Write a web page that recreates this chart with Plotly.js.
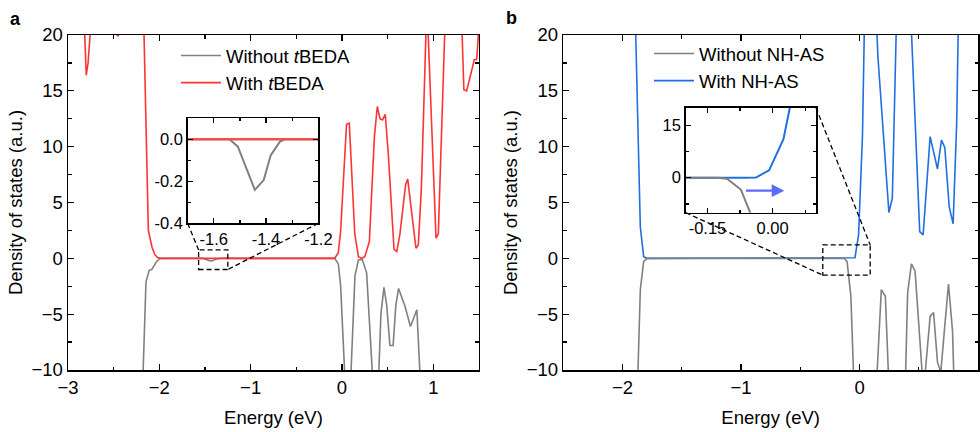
<!DOCTYPE html>
<html>
<head>
<meta charset="utf-8">
<script src="https://cdn.plot.ly/plotly-3.0.1.min.js"></script>
<style>html,body{margin:0;padding:0;background:#fff}#chart{width:980px;height:432px}</style>
</head>
<body>
<div id="chart"></div>
<script>
// ---- Panel a data (Energy in eV, DOS in a.u.) ----
const xWithoutTBEDA = [-3.0,-2.185,-2.146,-2.11,-2.083,-2.03,-2.0,-1.97,-1.54,-1.508,-1.443,-1.409,-1.382,-1.347,-1.328,-0.08,-0.04,-0.015,0.045,0.085,0.142,0.18,0.222,0.27,0.345,0.395,0.427,0.46,0.49,0.525,0.56,0.59,0.62,0.69,0.75,0.82,0.87,1.5];
const yWithoutTBEDA = [-12,-12,-2.1,-1.05,-1.0,-0.3,-0.06,0,0,-0.035,-0.241,-0.194,-0.075,-0.011,0,0,-0.5,-2.4,-13,-13,-1.6,-0.15,-0.1,-1.3,-12,-12,-4.9,-2.6,-4.2,-7.8,-7.8,-4.2,-2.7,-4.3,-6.1,-4.6,-13,-13];
const xWithTBEDA = [-3.0,-2.84,-2.80,-2.78,-2.74,-2.45,-2.2,-2.12,-2.08,-2.05,-2.02,-1.98,-0.08,-0.04,-0.015,0.05,0.08,0.14,0.18,0.215,0.25,0.30,0.355,0.387,0.416,0.445,0.474,0.507,0.57,0.60,0.635,0.697,0.72,0.76,0.81,0.836,0.87,0.93,1.03,1.055,1.14,1.30,1.335,1.365,1.45,1.475,1.51];
const yWithTBEDA = [25,25,16.4,17.5,22,19.9,32,2.5,1.0,0.35,0.08,0,0,0.5,2.4,12.0,12.1,2.2,0.15,0,0.15,1.5,10.9,13.6,12.5,12.4,12.9,9.4,0.8,0.6,2.2,6.6,7.1,4.3,0.9,1.2,6.4,23,1.8,2.2,24,24,15.1,15.0,17.8,17.8,22];

// ---- Panel b data ----
const xWithoutNHAS = [-2.5,-1.875,-1.85,-1.822,-1.794,-0.127,-0.105,-0.073,-0.045,0.14,0.184,0.218,0.25,0.385,0.406,0.438,0.469,0.535,0.54,0.596,0.625,0.658,0.686,0.72,0.751,0.785,0.80,1.0];
const yWithoutNHAS = [-12,-12,-2.8,-0.3,0,0,-0.3,-3.4,-12,-12,-2.8,-3.4,-12,-12,-3.1,-0.5,-1.15,-12,-12,-5.2,-4.85,-9.3,-10.2,-6.0,-2.3,-6.5,-12,-12];
const xWithNHAS = [-2.5,-1.9,-1.85,-1.822,-1.794,-0.062,-0.0385,-0.008,0.025,0.048,0.14,0.155,0.248,0.277,0.32,0.42,0.508,0.537,0.596,0.658,0.692,0.72,0.757,0.79,0.82,0.84,1.0];
const yWithNHAS = [25,25,2.8,0.15,0,0,0.05,2.1,11,25,22,18.1,4.1,5.4,25,25,2.4,2.1,10.9,8.0,10.6,9.9,4.6,3.1,12.1,25,25];

// ---- Labels ----
const panelLabels = ['a','b'];
const seriesNames = ['Without <i>t</i>BEDA','With <i>t</i>BEDA','Without NH-AS','With NH-AS'];
const xTitle = 'Energy (eV)';
const yTitle = 'Density of states (a.u.)';
const insetA_xticks = [-1.6,-1.4,-1.2];
const insetA_yticks = [0.0,-0.2,-0.4];
const insetB_xticks = [-0.15,0.0];
const insetB_yticks = [0,15];

// ---- Styles ----
const GRAY='#808080', RED='#ff3333', BLUE='#1f6fe0', ARROW='#5a6cf7';
const FONT="Arial, 'Liberation Sans', sans-serif";
const FS=18.5, IFS=16.5;

const traces = [
  {x:xWithoutTBEDA,y:yWithoutTBEDA,name:seriesNames[0],mode:'lines',line:{color:GRAY,width:1.6},xaxis:'x',yaxis:'y',legend:'legend'},
  {x:xWithTBEDA,y:yWithTBEDA,name:seriesNames[1],mode:'lines',line:{color:RED,width:1.6},xaxis:'x',yaxis:'y',legend:'legend'},
  {x:xWithNHAS,y:yWithNHAS,name:seriesNames[3],mode:'lines',line:{color:BLUE,width:1.6},xaxis:'x2',yaxis:'y2',legend:'legend2',legendrank:2},
  {x:xWithoutNHAS,y:yWithoutNHAS,name:seriesNames[2],mode:'lines',line:{color:GRAY,width:1.6},xaxis:'x2',yaxis:'y2',legend:'legend2',legendrank:1},
  // insets
  {x:xWithoutTBEDA,y:yWithoutTBEDA,mode:'lines',line:{color:GRAY,width:2},xaxis:'x3',yaxis:'y3',showlegend:false},
  {x:xWithTBEDA,y:yWithTBEDA,mode:'lines',line:{color:'#f25050',width:2.6},xaxis:'x3',yaxis:'y3',showlegend:false},
  {x:xWithNHAS,y:yWithNHAS,mode:'lines',line:{color:BLUE,width:2},xaxis:'x4',yaxis:'y4',showlegend:false},
  {x:xWithoutNHAS,y:yWithoutNHAS,mode:'lines',line:{color:GRAY,width:2},xaxis:'x4',yaxis:'y4',showlegend:false}
];

const axBase = {showline:true,linecolor:'#000',linewidth:1.5,mirror:'allticks',ticks:'inside',ticklen:6,tickwidth:1.3,tickcolor:'#000',
  showgrid:false,zeroline:false,tickfont:{family:FONT,size:FS,color:'#000'},automargin:false};
function ax(o){return Object.assign({},axBase,o);}

const domA=[0,0.4516], domB=[0.5443,1];
const rxA=[-3,1.5], rxB=[-2.5,1], ry=[-10,20];
const inA={x:[0.1315,0.2751],y:[0.4379,0.7513]};
const inB={x:[0.6788,0.8220],y:[0.4696,0.7830]};
const minorMain = (d)=>({dtick:d,ticks:'inside',ticklen:3.5,tickwidth:1.3,tickcolor:'#000'});

const layout = {
  width:980,height:432,
  margin:{l:68,r:2,t:35,b:62},
  paper_bgcolor:'#fff',plot_bgcolor:'rgba(0,0,0,0)',
  font:{family:FONT,size:FS,color:'#000'},
  xaxis:ax({domain:domA,anchor:'y',range:rxA,tick0:0,dtick:1,minor:minorMain(0.5),
    title:{text:xTitle,font:{family:FONT,size:FS},standoff:14}}),
  yaxis:ax({domain:[0,1],anchor:'x',range:ry,tick0:0,dtick:5,minor:minorMain(2.5),
    title:{text:yTitle,font:{family:FONT,size:FS},standoff:4}}),
  xaxis2:ax({domain:domB,anchor:'y2',range:rxB,tick0:0,dtick:1,minor:minorMain(0.5),
    title:{text:xTitle,font:{family:FONT,size:FS},standoff:14}}),
  yaxis2:ax({domain:[0,1],anchor:'x2',range:ry,tick0:0,dtick:5,minor:minorMain(2.5),
    title:{text:yTitle,font:{family:FONT,size:FS},standoff:4}}),
  xaxis3:ax({domain:inA.x,anchor:'y3',range:[-1.7,-1.2],tickvals:insetA_xticks,ticktext:insetA_xticks.map(v=>v.toFixed(1)),
    minor:{tickvals:[-1.7,-1.5,-1.3],ticks:'inside',ticklen:3,tickcolor:'#000'},ticklen:5,tickfont:{family:FONT,size:IFS,color:'#000'}}),
  yaxis3:ax({domain:inA.y,anchor:'x3',range:[-0.4,0.1],tickvals:insetA_yticks,ticktext:insetA_yticks.map(v=>v.toFixed(1)),
    minor:{tickvals:[-0.3,-0.1,0.1],ticks:'inside',ticklen:3,tickcolor:'#000'},ticklen:5,tickfont:{family:FONT,size:IFS,color:'#000'}}),
  xaxis4:ax({domain:inB.x,anchor:'y4',range:[-0.2,0.1],tickvals:insetB_xticks,ticktext:insetB_xticks.map(v=>v.toFixed(2)),
    minor:{tickvals:[-0.075,0.075],ticks:'inside',ticklen:3,tickcolor:'#000'},ticklen:5,tickfont:{family:FONT,size:IFS,color:'#000'}}),
  yaxis4:ax({domain:inB.y,anchor:'x4',range:[-10,20],tickvals:insetB_yticks,ticktext:insetB_yticks.map(String),
    minor:{tickvals:[-7.5,7.5],ticks:'inside',ticklen:3,tickcolor:'#000'},ticklen:5,tickfont:{family:FONT,size:IFS,color:'#000'}}),
  legend:{x:(176-68)/910,y:1-(37-35)/335,xanchor:'left',yanchor:'top',bgcolor:'rgba(0,0,0,0)',borderwidth:0,
    font:{family:FONT,size:FS},itemwidth:40,tracegroupgap:0},
  legend2:{x:(649-68)/910,y:1-(35-35)/335,xanchor:'left',yanchor:'top',bgcolor:'rgba(0,0,0,0)',borderwidth:0,
    font:{family:FONT,size:FS},itemwidth:40,tracegroupgap:0},
  annotations:[
    {text:'<b>'+panelLabels[0]+'</b>',xref:'paper',yref:'paper',x:-53/910,y:1+16/335,xanchor:'center',yanchor:'middle',showarrow:false,font:{family:FONT,size:18,color:'#000'}},
    {text:'<b>'+panelLabels[1]+'</b>',xref:'paper',yref:'paper',x:(511.5-68)/910,y:1+17/335,xanchor:'center',yanchor:'middle',showarrow:false,font:{family:FONT,size:18,color:'#000'}},
    {x:0.027,y:-3.7,ax:-0.065,ay:-3.7,xref:'x4',yref:'y4',axref:'x4',ayref:'y4',showarrow:true,arrowhead:2,arrowsize:1.15,arrowwidth:2.2,arrowcolor:ARROW,text:''}
  ],
  shapes:[],
  showlegend:true
};

// map inset domain corners into main-axis data coordinates
function dx(d,dom,r){return r[0]+(d-dom[0])/(dom[1]-dom[0])*(r[1]-r[0]);}
function dy(d,r){return r[0]+d*(r[1]-r[0]);}
const dashed={color:'#000',width:1.3,dash:'5px,3px'};
const rectA={x0:-1.57,x1:-1.25,y0:-1.0,y1:0.75};
const rectB={x0:-0.31,x1:0.09,y0:-1.5,y1:1.2};
layout.shapes.push({type:'rect',xref:'x',yref:'y',x0:rectA.x0,x1:rectA.x1,y0:rectA.y0,y1:rectA.y1,line:dashed});
layout.shapes.push({type:'line',xref:'x',yref:'y',x0:dx(inA.x[0],domA,rxA),y0:dy(inA.y[0],ry),x1:rectA.x0,y1:rectA.y1,line:dashed});
layout.shapes.push({type:'line',xref:'x',yref:'y',x0:dx(inA.x[1],domA,rxA),y0:dy(inA.y[0],ry),x1:rectA.x1,y1:rectA.y0,line:dashed});
layout.shapes.push({type:'rect',xref:'x2',yref:'y2',x0:rectB.x0,x1:rectB.x1,y0:rectB.y0,y1:rectB.y1,line:dashed});
layout.shapes.push({type:'line',xref:'x2',yref:'y2',x0:dx(inB.x[1],domB,rxB),y0:dy(inB.y[1],ry),x1:rectB.x1,y1:rectB.y1,line:dashed});
layout.shapes.push({type:'line',xref:'x2',yref:'y2',x0:dx(inB.x[0],domB,rxB),y0:dy(inB.y[0],ry),x1:rectB.x0,y1:rectB.y0,line:dashed});

Plotly.newPlot('chart',traces,layout,{displayModeBar:false,staticPlot:true});
</script>
</body>
</html>
